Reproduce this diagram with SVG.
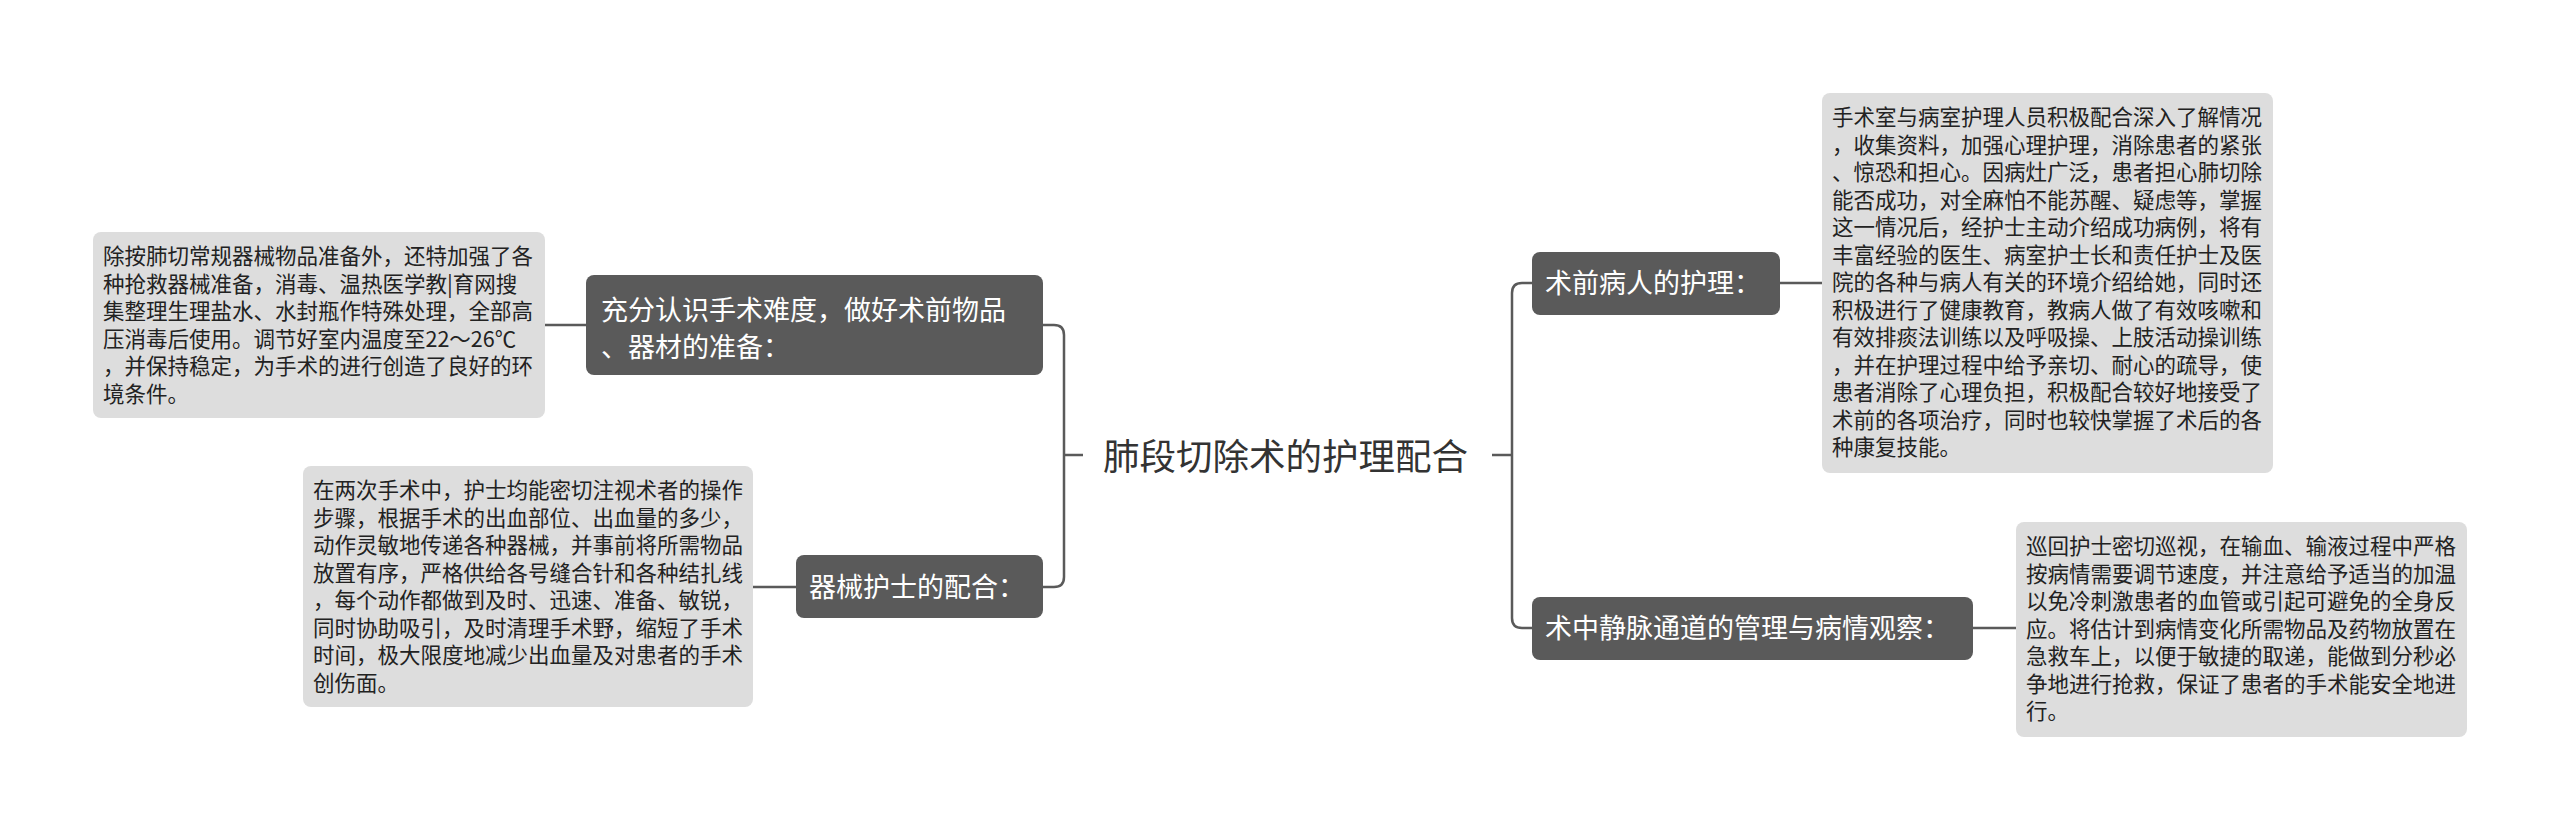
<svg xmlns="http://www.w3.org/2000/svg" width="2560" height="829" viewBox="0 0 2560 829">
<style>
.bg{fill:#ffffff}
.conn{fill:none;stroke:#5a5a5a;stroke-width:2.5}
.main{fill:#5a5a5a}
.leaf{fill:#dddddd}
.t{font-family:"Noto Sans CJK SC","Noto Sans",sans-serif}
.mt{font-size:27px;fill:#ffffff}
.lt{font-size:21.5px;fill:#222222}
.ct{font-size:36.5px;fill:#333333}
</style>
<rect class="bg" x="0" y="0" width="2560" height="829"/>
<g id="connectors">
<path class="conn" d="M1083,455 H1064"/>
<path class="conn" d="M1043,325 H1054 Q1064,325 1064,335 V577 Q1064,587 1054,587 H1043"/>
<path class="conn" d="M1492,455 H1512"/>
<path class="conn" d="M1532,283 H1522 Q1512,283 1512,293 V618 Q1512,628 1522,628 H1532"/>
<path class="conn" d="M545,325 H586"/>
<path class="conn" d="M753,587 H796"/>
<path class="conn" d="M1780,283 H1822"/>
<path class="conn" d="M1973,628 H2016"/>
</g>
<g id="center">
<text class="t ct" x="1103" y="470">肺段切除术的护理配合</text>
</g>
<g id="node-left1">
<rect class="main" x="586" y="275" width="457" height="100" rx="8"/>
<text class="t mt" x="601" y="320">充分认识手术难度，做好术前物品</text>
<text class="t mt" x="601" y="357">、器材的准备：</text>
</g>
<g id="node-left2">
<rect class="main" x="796" y="555" width="247" height="63" rx="8"/>
<text class="t mt" x="809" y="597">器械护士的配合：</text>
</g>
<g id="node-right1">
<rect class="main" x="1532" y="252" width="248" height="63" rx="8"/>
<text class="t mt" x="1545" y="293">术前病人的护理：</text>
</g>
<g id="node-right2">
<rect class="main" x="1532" y="597" width="441" height="63" rx="8"/>
<text class="t mt" x="1545" y="638">术中静脉通道的管理与病情观察：</text>
</g>
<g id="leaf-left1">
<rect class="leaf" x="93" y="232" width="452" height="186" rx="8"/>
<text class="t lt" x="103" y="264">除按肺切常规器械物品准备外，还特加强了各</text>
<text class="t lt" x="103" y="291.5">种抢救器械准备，消毒、温热医学教|育网搜</text>
<text class="t lt" x="103" y="319">集整理生理盐水、水封瓶作特殊处理，全部高</text>
<text class="t lt" x="103" y="346.5">压消毒后使用。调节好室内温度至22～26℃</text>
<text class="t lt" x="103" y="374">，并保持稳定，为手术的进行创造了良好的环</text>
<text class="t lt" x="103" y="401.5">境条件。</text>
</g>
<g id="leaf-left2">
<rect class="leaf" x="303" y="466" width="450" height="241" rx="8"/>
<text class="t lt" x="313" y="498">在两次手术中，护士均能密切注视术者的操作</text>
<text class="t lt" x="313" y="525.5">步骤，根据手术的出血部位、出血量的多少，</text>
<text class="t lt" x="313" y="553">动作灵敏地传递各种器械，并事前将所需物品</text>
<text class="t lt" x="313" y="580.5">放置有序，严格供给各号缝合针和各种结扎线</text>
<text class="t lt" x="313" y="608">，每个动作都做到及时、迅速、准备、敏锐，</text>
<text class="t lt" x="313" y="635.5">同时协助吸引，及时清理手术野，缩短了手术</text>
<text class="t lt" x="313" y="663">时间，极大限度地减少出血量及对患者的手术</text>
<text class="t lt" x="313" y="690.5">创伤面。</text>
</g>
<g id="leaf-right1">
<rect class="leaf" x="1822" y="93" width="451" height="380" rx="8"/>
<text class="t lt" x="1832" y="125">手术室与病室护理人员积极配合深入了解情况</text>
<text class="t lt" x="1832" y="152.5">，收集资料，加强心理护理，消除患者的紧张</text>
<text class="t lt" x="1832" y="180">、惊恐和担心。因病灶广泛，患者担心肺切除</text>
<text class="t lt" x="1832" y="207.5">能否成功，对全麻怕不能苏醒、疑虑等，掌握</text>
<text class="t lt" x="1832" y="235">这一情况后，经护士主动介绍成功病例，将有</text>
<text class="t lt" x="1832" y="262.5">丰富经验的医生、病室护士长和责任护士及医</text>
<text class="t lt" x="1832" y="290">院的各种与病人有关的环境介绍给她，同时还</text>
<text class="t lt" x="1832" y="317.5">积极进行了健康教育，教病人做了有效咳嗽和</text>
<text class="t lt" x="1832" y="345">有效排痰法训练以及呼吸操、上肢活动操训练</text>
<text class="t lt" x="1832" y="372.5">，并在护理过程中给予亲切、耐心的疏导，使</text>
<text class="t lt" x="1832" y="400">患者消除了心理负担，积极配合较好地接受了</text>
<text class="t lt" x="1832" y="427.5">术前的各项治疗，同时也较快掌握了术后的各</text>
<text class="t lt" x="1832" y="455">种康复技能。</text>
</g>
<g id="leaf-right2">
<rect class="leaf" x="2016" y="522" width="451" height="215" rx="8"/>
<text class="t lt" x="2026" y="554">巡回护士密切巡视，在输血、输液过程中严格</text>
<text class="t lt" x="2026" y="581.5">按病情需要调节速度，并注意给予适当的加温</text>
<text class="t lt" x="2026" y="609">以免冷刺激患者的血管或引起可避免的全身反</text>
<text class="t lt" x="2026" y="636.5">应。将估计到病情变化所需物品及药物放置在</text>
<text class="t lt" x="2026" y="664">急救车上，以便于敏捷的取递，能做到分秒必</text>
<text class="t lt" x="2026" y="691.5">争地进行抢救，保证了患者的手术能安全地进</text>
<text class="t lt" x="2026" y="719">行。</text>
</g>
</svg>
